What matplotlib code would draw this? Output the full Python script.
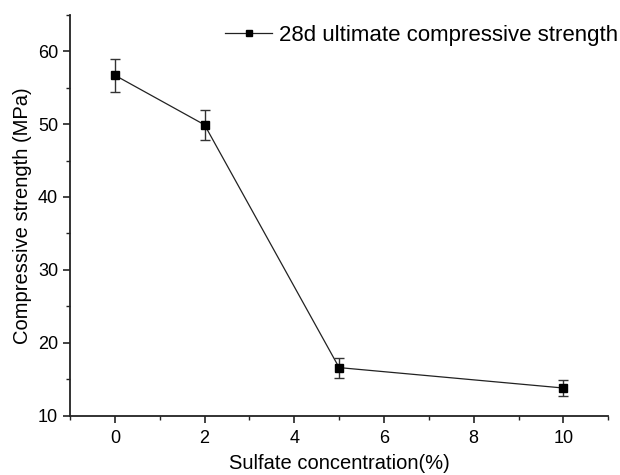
import matplotlib
matplotlib.use("Agg")
import matplotlib.pyplot as plt
from matplotlib.ticker import MultipleLocator
from matplotlib.lines import Line2D

plt.rcParams['font.family'] = ['Liberation Sans', 'DejaVu Sans']

concentration = [0, 2, 5, 10]
strength = [56.7, 49.9, 16.6, 13.8]
error = [2.25, 2.1, 1.37, 1.05]
label = "28d ultimate compressive strength"

fig = plt.figure(figsize=(6.2, 4.75), dpi=100)
ax = fig.add_axes([0.1129, 0.1248, 0.981 - 0.1129, 0.969 - 0.1248])

ax.errorbar(concentration, strength, yerr=error, color='#222222', lw=0.9,
            marker='s', markersize=6, markerfacecolor='black', markeredgecolor='black',
            ecolor='#333333', elinewidth=1.0, capsize=3.5, capthick=1.0)

ax.set_xlim(-1, 11)
ax.set_ylim(10, 65)
ax.xaxis.set_major_locator(MultipleLocator(2))
ax.xaxis.set_minor_locator(MultipleLocator(1))
ax.yaxis.set_major_locator(MultipleLocator(10))
ax.yaxis.set_minor_locator(MultipleLocator(5))
ax.spines['top'].set_visible(False)
ax.spines['right'].set_visible(False)
for s in ['left', 'bottom']:
    ax.spines[s].set_linewidth(1.3)
    ax.spines[s].set_color('#222222')
ax.tick_params(which='major', direction='out', length=5, width=1.2, labelsize=13, colors='#222222')
ax.tick_params(which='minor', direction='out', length=3, width=1.0, colors='#222222')
ax.tick_params(axis='x', pad=5)
ax.tick_params(labelcolor='black')

ax.set_xlabel("Sulfate concentration(%)", fontsize=14.5, labelpad=5)
ax.set_ylabel("Compressive strength (MPa)", fontsize=14.5, labelpad=4)

handle = Line2D([], [], color='#222222', lw=0.9, marker='s', markersize=4.5,
                markerfacecolor='black', markeredgecolor='black')
leg = ax.legend(handles=[handle], labels=[label], loc='upper right',
                bbox_to_anchor=(1.055, 1.025), frameon=False, fontsize=16,
                handlelength=2.1, handletextpad=0.3)

fig.savefig("out.png", dpi=100)
